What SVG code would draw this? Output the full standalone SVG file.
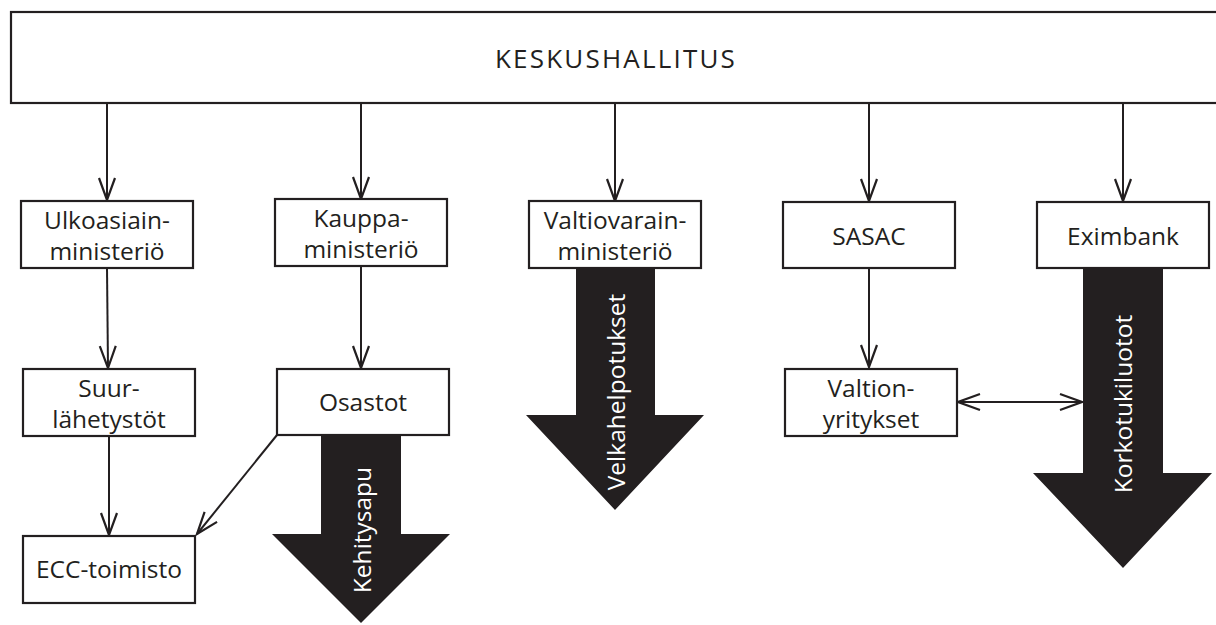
<svg xmlns="http://www.w3.org/2000/svg" width="1216" height="625" viewBox="0 0 1216 625">
<defs>
<style>
.box{fill:#fff;stroke:#231f20;stroke-width:2.2}
.t{font-family:"Open Sans","Noto Sans","Liberation Sans",sans-serif;font-size:24.5px;fill:#231f20;text-anchor:middle}
.big{fill:#231f20;stroke:none}
.w{font-family:"Open Sans","Noto Sans","Liberation Sans",sans-serif;font-size:24.5px;fill:#fff;text-anchor:middle}
.ln{fill:none;stroke:#231f20;stroke-width:2}
</style>
<marker id="ah" viewBox="0 0 26 24" refX="24" refY="12" markerWidth="26" markerHeight="24" markerUnits="userSpaceOnUse" orient="auto-start-reverse">
<path d="M2,4 L24,12 L2,20" fill="none" stroke="#231f20" stroke-width="2.2"/>
</marker>
</defs>
<rect width="1216" height="625" fill="#fff"/>
<g id="keskushallitus">
<rect class="box" x="11" y="12" width="1215" height="91"/>
<text class="t" x="616" y="68" style="font-size:26px;letter-spacing:2.2px">KESKUSHALLITUS</text>
</g>
<g id="connectors">
<line class="ln" x1="107" y1="103" x2="107" y2="200" marker-end="url(#ah)"/>
<line class="ln" x1="361" y1="103" x2="361" y2="199" marker-end="url(#ah)"/>
<line class="ln" x1="615" y1="103" x2="615" y2="201" marker-end="url(#ah)"/>
<line class="ln" x1="869" y1="103" x2="869" y2="201" marker-end="url(#ah)"/>
<line class="ln" x1="1123" y1="103" x2="1123" y2="201" marker-end="url(#ah)"/>
<line class="ln" x1="107" y1="268" x2="108" y2="368" marker-end="url(#ah)"/>
<line class="ln" x1="361" y1="266" x2="361" y2="368" marker-end="url(#ah)"/>
<line class="ln" x1="869" y1="268" x2="869" y2="367" marker-end="url(#ah)"/>
<line class="ln" x1="109" y1="436" x2="109" y2="535" marker-end="url(#ah)"/>
<line class="ln" x1="277" y1="435" x2="197" y2="534" marker-end="url(#ah)"/>
<line class="ln" x1="958" y1="402" x2="1082" y2="402" marker-start="url(#ah)" marker-end="url(#ah)"/>
</g>
<g id="ulkoasiainministerio">
<rect class="box" x="21" y="201" width="172" height="67"/>
<text class="t" x="107" y="229">Ulkoasiain-</text>
<text class="t" x="107" y="260">ministeriö</text>
</g>
<g id="kauppaministerio">
<rect class="box" x="275" y="199" width="172" height="67"/>
<text class="t" x="361" y="227">Kauppa-</text>
<text class="t" x="361" y="258">ministeriö</text>
</g>
<g id="valtiovarainministerio">
<rect class="box" x="529" y="201" width="172" height="67"/>
<text class="t" x="615" y="229">Valtiovarain-</text>
<text class="t" x="615" y="260">ministeriö</text>
</g>
<g id="sasac">
<rect class="box" x="783" y="202" width="172" height="66"/>
<text class="t" x="869" y="245">SASAC</text>
</g>
<g id="eximbank">
<rect class="box" x="1037" y="202" width="172" height="66"/>
<text class="t" x="1123" y="245">Eximbank</text>
</g>
<g id="suurlahetystot">
<rect class="box" x="23" y="369" width="172" height="67"/>
<text class="t" x="109" y="397">Suur-</text>
<text class="t" x="109" y="428">lähetystöt</text>
</g>
<g id="osastot">
<rect class="box" x="277" y="369" width="172" height="66"/>
<text class="t" x="363" y="411">Osastot</text>
</g>
<g id="valtionyritykset">
<rect class="box" x="785" y="369" width="172" height="67"/>
<text class="t" x="871" y="397">Valtion-</text>
<text class="t" x="871" y="428">yritykset</text>
</g>
<g id="ecc-toimisto">
<rect class="box" x="23" y="536" width="172" height="67"/>
<text class="t" x="109" y="578">ECC-toimisto</text>
</g>
<g id="kehitysapu">
<polygon class="big" points="321,436 401,436 401,534 450,534 361,623 272,534 321,534"/>
<text class="w" transform="translate(371,530) rotate(-90)">Kehitysapu</text>
</g>
<g id="velkahelpotukset">
<polygon class="big" points="576,269 655,269 655,415 704,415 615,510 526,415 576,415"/>
<text class="w" transform="translate(625,392) rotate(-90)">Velkahelpotukset</text>
</g>
<g id="korkotukiluotot">
<polygon class="big" points="1083,269 1163,269 1163,473 1212,473 1123,568 1033,473 1083,473"/>
<text class="w" transform="translate(1132,404) rotate(-90)">Korkotukiluotot</text>
</g>
</svg>
